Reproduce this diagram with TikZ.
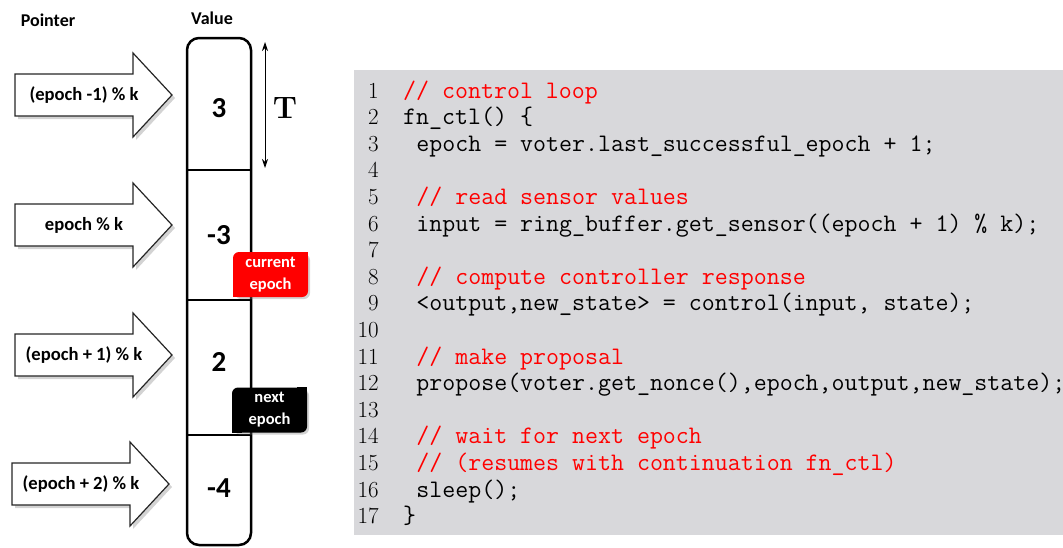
\documentclass[tikz,border=0pt]{standalone}
\usepackage{fontspec}
\newfontfamily\labelfont{Carlito}
\usetikzlibrary{arrows.meta,shadows}
\definecolor{codebg}{RGB}{216,216,219}
\tikzset{
  >={Stealth[length=9pt,width=6pt]},
  ptrarrow/.style={draw=black!85,line width=1.2pt,fill=white,line join=miter,
    drop shadow={shadow xshift=3pt,shadow yshift=-3pt,opacity=.35}},
  ptrtext/.style={font=\labelfont\bfseries\fontsize{18.6}{22}\selectfont},
  hdr/.style={font=\labelfont\bfseries\fontsize{18}{22}\selectfont},
  cellval/.style={font=\labelfont\bfseries\fontsize{29}{32}\selectfont},
  epochtag/.style={minimum width=75pt,minimum height=45pt,inner sep=0pt,
    rounded corners=6pt,text=white,align=center,
    font=\labelfont\bfseries\fontsize{16.5}{22}\selectfont,
    drop shadow={shadow xshift=2pt,shadow yshift=-2pt,opacity=.35}},
  codeline/.style={anchor=base west,inner sep=0pt,
    font=\ttfamily\fontsize{25.2}{26.6}\selectfont},
  lineno/.style={anchor=base east,inner sep=0pt,
    font=\rmfamily\fontsize{23}{26.6}\selectfont}
}

\begin{document}
\begin{tikzpicture}[x=1pt,y=-1pt]
  \useasboundingbox (0,0) rectangle (1063,547);
  % headers
  \node[hdr] (ptrhead) at (48,20) {Pointer};
  \node[hdr] (valhead) at (212,18) {Value};
  % pointer arrows
  \foreach \i/\x/\y/\txt in {1/15/95/{(epoch -1) \% k},2/15/225/{epoch \% k},
      3/15/355/{(epoch + 1) \% k},4/12/484/{(epoch + 2) \% k}}{
    \draw[ptrarrow] (\x,\y-21) -- ++(118,0) -- ++(0,-21) -- (\x+157,\y)
      -- (\x+118,\y+42) -- ++(0,-21) -- (\x,\y+21) -- cycle;
    \node[ptrtext] (ptr\i) at (\x+69,\y) {\txt};
  }
  % ring buffer
  \draw[line width=2.5pt,rounded corners=12pt] (187,38) rectangle (251,545);
  \foreach \y in {170,300,435}
    \draw[line width=2.5pt] (187,\y) -- (251,\y);
  \node[cellval] (val1) at (219,108) {3};
  \node[cellval] (val2) at (219,235) {-3};
  \node[cellval] (val3) at (219,362) {2};
  \node[cellval] (val4) at (219,488) {-4};
  % period
  \coordinate (ttop) at (265,42);
  \coordinate (tbot) at (265,168);
  \draw[<->,line width=.9pt] (ttop) -- (tbot);
  \node[font=\rmfamily\bfseries\fontsize{31}{33}\selectfont] (tlabel) at (285,108) {T};
  % epoch tags
  \node[epochtag,fill=red] (curtag) at (270.5,274.5) {current\\epoch};
  \fill[red] (curtag.north east) rectangle ++(-10,10);
  \fill[red] (curtag.south west) rectangle ++(10,-10);
  \node[epochtag,fill=black] (nexttag) at (269.5,410) {next\\epoch};
  \fill[black] (nexttag.north east) rectangle ++(-10,10);
  \fill[black] (nexttag.south west) rectangle ++(10,-10);
  % code listing
  \fill[codebg] (354,70) rectangle (1063,535);
  \foreach \i in {1,...,17}
    \node[lineno] (ln\i) at (379,{98+26.6*(\i-1)}) {\i};
  \foreach \i/\ind/\col/\txt in {
      1/0/red/{// control loop},
      2/0/black/{fn\_ctl() \{},
      3/1/black/{epoch = voter.last\_successful\_epoch + 1;},
      5/1/red/{// read sensor values},
      6/1/black/{input = ring\_buffer.get\_sensor((epoch + 1) \% k);},
      8/1/red/{// compute controller response},
      9/1/black/{<output,new\_state> = control(input, state);},
      11/1/red/{// make proposal},
      12/1/black/{propose(voter.get\_nonce(),epoch,output,new\_state);},
      14/1/red/{// wait for next epoch},
      15/1/red/{// (resumes with continuation fn\_ctl)},
      16/1/black/{sleep();},
      17/0/black/{\}}}
    \node[codeline,text=\col] (code\i) at ({403+13.2*\ind},{98+26.6*(\i-1)}) {\txt};
\end{tikzpicture}
\end{document}
